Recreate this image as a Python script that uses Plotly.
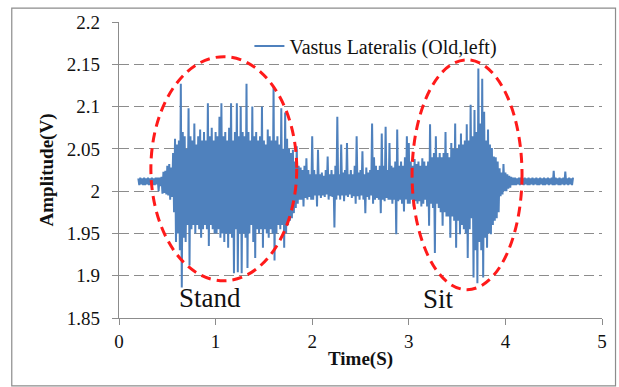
import plotly.graph_objects as go

# ---------------- data ----------------
T_START = 0.20   # first sample time (s)
T_STEP = 0.01    # sample spacing (s)

rest_before = [  # 0.20 - 0.59 s
    2.015, 2.007, 2.016, 2.008, 2.015, 2.007, 2.016, 2.007, 2.015, 2.008,
    2.016, 2.007, 2.015, 2.008, 2.016, 2.007, 2.015, 2.007, 2.016, 2.008,
    2.016, 2.000, 2.016, 2.006, 2.017, 1.997, 2.023, 1.998, 2.024, 1.996,
    2.030, 1.995, 2.032, 1.990, 2.028, 1.993, 2.045, 1.975, 2.062, 1.940,
]
stand_phase = [  # 0.60 - 1.79 s
    2.055, 1.950, 2.060, 1.930, 2.127, 1.886, 2.070, 1.945, 2.065, 1.940,
    2.050, 1.960, 2.098, 1.912, 2.065, 1.955, 2.060, 1.960, 2.080, 1.950,
    2.055, 1.960, 2.065, 1.955, 2.073, 1.945, 2.060, 1.955, 2.070, 1.960,
    2.060, 1.955, 2.104, 1.935, 2.065, 1.960, 2.075, 1.955, 2.060, 1.950,
    2.070, 1.950, 2.065, 1.955, 2.088, 1.945, 2.104, 1.950, 2.065, 1.940,
    2.070, 1.950, 2.060, 1.933, 2.075, 1.950, 2.104, 1.945, 2.060, 1.903,
    2.070, 1.955, 2.104, 1.904, 2.065, 1.950, 2.100, 1.903, 2.070, 1.950,
    2.065, 1.945, 2.127, 1.909, 2.070, 1.950, 2.060, 1.960, 2.100, 1.940,
    2.065, 1.921, 2.070, 1.955, 2.060, 1.950, 2.065, 1.955, 2.100, 1.933,
    2.060, 1.955, 2.055, 1.950, 2.073, 1.945, 2.065, 1.955, 2.060, 1.950,
    2.124, 1.918, 2.060, 1.950, 2.065, 1.960, 2.055, 1.955, 2.098, 1.960,
    2.050, 1.933, 2.093, 1.950, 2.062, 1.960, 2.050, 1.965, 2.045, 1.968,
]
between_phase = [  # 1.80 - 2.99 s
    2.049, 1.974, 2.035, 1.980, 2.053, 1.985, 2.030, 1.990, 2.028, 1.990,
    2.025, 1.982, 2.030, 1.992, 2.039, 1.990, 2.025, 1.993, 2.020, 1.990,
    2.065, 1.990, 2.025, 1.995, 2.020, 1.982, 2.049, 1.995, 2.020, 1.992,
    2.022, 1.995, 2.018, 1.993, 2.025, 1.996, 2.041, 1.990, 2.020, 1.994,
    2.025, 1.993, 2.020, 1.957, 2.030, 1.990, 2.088, 1.995, 2.020, 1.990,
    2.055, 1.995, 2.022, 1.988, 2.025, 1.995, 2.057, 1.993, 2.020, 1.996,
    2.025, 1.992, 2.020, 1.994, 2.030, 1.985, 2.065, 1.994, 2.022, 1.990,
    2.025, 1.995, 2.047, 1.990, 2.020, 1.974, 2.028, 1.993, 2.022, 1.990,
    2.025, 1.995, 2.080, 1.985, 2.040, 1.990, 2.030, 1.992, 2.025, 1.990,
    2.030, 1.974, 2.068, 1.990, 2.030, 1.988, 2.076, 1.992, 2.025, 1.990,
    2.057, 1.990, 2.030, 1.985, 2.028, 1.990, 2.035, 1.949, 2.073, 1.988,
    2.030, 1.990, 2.035, 1.985, 2.030, 1.976, 2.040, 1.990, 2.065, 1.985,
]
sit_phase = [  # 3.00 - 3.99 s
    2.057, 1.985, 2.035, 1.990, 2.030, 1.982, 2.038, 1.988, 2.032, 1.985,
    2.035, 1.988, 2.030, 1.982, 2.039, 1.985, 2.035, 1.990, 2.030, 1.982,
    2.035, 1.959, 2.079, 1.985, 2.040, 1.980, 2.045, 1.927, 2.065, 1.985,
    2.040, 1.980, 2.045, 1.975, 2.040, 1.959, 2.045, 1.975, 2.070, 1.970,
    2.045, 1.970, 2.040, 1.945, 2.057, 1.970, 2.050, 1.965, 2.080, 1.933,
    2.050, 1.965, 2.055, 1.949, 2.068, 1.960, 2.055, 1.955, 2.060, 1.950,
    2.079, 1.921, 2.060, 1.955, 2.102, 1.968, 2.065, 1.898, 2.096, 1.930,
    2.070, 1.891, 2.145, 1.940, 2.080, 1.930, 2.133, 1.898, 2.094, 1.945,
    2.060, 1.933, 2.073, 1.950, 2.055, 1.949, 2.051, 1.960, 2.041, 1.965,
    2.040, 1.968, 2.035, 1.975, 2.027, 1.994, 2.022, 1.996, 2.032, 2.000,
]
rest_after = [  # 4.00 - 4.70 s
    2.022, 2.000, 2.020, 2.003, 2.018, 2.004, 2.017, 2.007, 2.016, 2.007,
    2.016, 2.007, 2.015, 2.008, 2.016, 2.007, 2.016, 2.008, 2.015, 2.007,
    2.016, 2.008, 2.015, 2.007, 2.016, 2.007, 2.015, 2.008, 2.016, 2.007,
    2.015, 2.008, 2.016, 2.007, 2.015, 2.007, 2.016, 2.008, 2.015, 2.007,
    2.016, 2.007, 2.015, 2.008, 2.016, 2.007, 2.015, 2.008, 2.016, 2.007,
    2.024, 2.007, 2.016, 2.008, 2.015, 2.007, 2.016, 2.007, 2.015, 2.008,
    2.016, 2.007, 2.023, 2.008, 2.015, 2.007, 2.016, 2.008, 2.015, 2.007,
    2.016,
]

series_name = "Vastus Lateralis (Old,left)"
x_tick_vals = [0, 1, 2, 3, 4, 5]
y_tick_vals = [1.85, 1.9, 1.95, 2.0, 2.05, 2.1, 2.15, 2.2]
y_tick_text = ["1.85", "1.9", "1.95", "2", "2.05", "2.1", "2.15", "2.2"]

phase_labels = ["Stand", "Sit"]
phase_label_x = [0.94, 3.31]
phase_label_y = [1.874, 1.873]
# ellipses marking the phases: [x0, x1, y0, y1]
phase_regions = [[0.33, 1.84, 1.894, 2.159], [3.034, 4.172, 1.8835, 2.1553]]

# ---------------- figure ----------------
amplitude = rest_before + stand_phase + between_phase + sit_phase + rest_after
time_s = [round(T_START + T_STEP * i, 2) for i in range(len(amplitude))]

FONT = "Liberation Serif"
BLUE = "#4F81BD"
GRID = "#8C8C8C"
TXT = "#111111"

fig = go.Figure()
fig.add_trace(go.Scatter(
    x=time_s, y=amplitude, mode="lines", name=series_name,
    line=dict(color=BLUE, width=2), showlegend=True,
))

for (x0, x1, y0, y1) in phase_regions:
    fig.add_shape(type="circle", xref="x", yref="y", x0=x0, x1=x1, y0=y0, y1=y1,
                  line=dict(color="#FF1A1A", width=3, dash="10px,6px"),
                  fillcolor="rgba(0,0,0,0)", layer="above")

for txt, lx, ly in zip(phase_labels, phase_label_x, phase_label_y):
    fig.add_annotation(x=lx, y=ly, xref="x", yref="y", text=txt, showarrow=False,
                       font=dict(family=FONT, size=27, color=TXT))

# outer frame of the chart
fig.add_shape(type="rect", xref="paper", yref="paper",
              x0=-0.222, x1=1.028, y0=-0.229, y1=1.047,
              line=dict(color="#8C8C8C", width=1.2), layer="below")

fig.update_layout(
    width=619, height=387,
    margin=dict(l=119, r=16, t=20, b=69),
    paper_bgcolor="white", plot_bgcolor="white",
    font=dict(family=FONT, size=19, color=TXT),
    legend=dict(x=0.27, y=0.985, xanchor="left", yanchor="top",
                bgcolor="rgba(0,0,0,0)", font=dict(family=FONT, size=20, color=TXT)),
    xaxis=dict(range=[0, 5], tickvals=x_tick_vals, showgrid=False, zeroline=False,
               showline=True, linecolor=GRID, linewidth=1.3,
               ticks="outside", ticklen=6, tickcolor=GRID, tickwidth=1.3,
               tickfont=dict(family=FONT, size=19, color=TXT),
               title=dict(text="<b>Time(S)</b>", standoff=0,
                          font=dict(family=FONT, size=19, color=TXT))),
    yaxis=dict(range=[1.85, 2.2], tickvals=y_tick_vals, ticktext=y_tick_text,
               showgrid=True, gridcolor=GRID, gridwidth=1.4, griddash="10px,5px",
               zeroline=False, showline=True, linecolor=GRID, linewidth=1.3,
               ticks="outside", ticklen=6, tickcolor=GRID, tickwidth=1.3,
               ticklabelstandoff=8,
               tickfont=dict(family=FONT, size=19, color=TXT),
               title=dict(text="<b>Amplitude(V)</b>", standoff=8,
                          font=dict(family=FONT, size=19, color=TXT))),
)

fig.write_html("out.html", config={"displayModeBar": False},
               post_script="document.body.style.margin='0';")
